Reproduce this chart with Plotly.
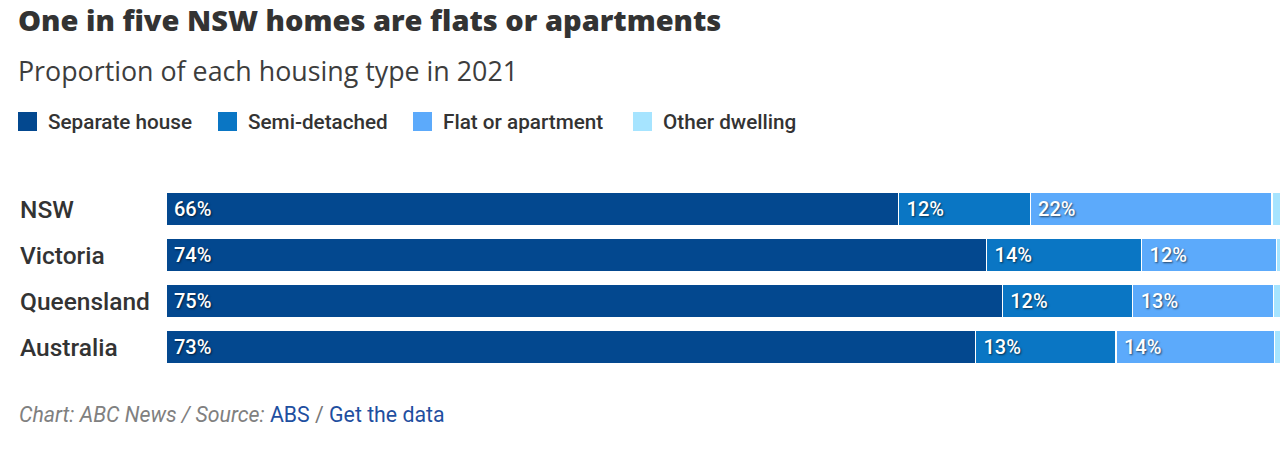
import plotly.graph_objects as go

regions = ["NSW", "Victoria", "Queensland", "Australia"]
series_names = ["Separate house", "Semi-detached", "Flat or apartment", "Other dwelling"]
separate_house = [65.7, 73.6, 75.0, 72.6]
semi_detached = [11.8, 13.9, 11.7, 12.6]
flat_apartment = [21.7, 12.1, 12.6, 14.2]
other_dwelling = [0.8, 0.4, 0.7, 0.6]
series_values = [separate_house, semi_detached, flat_apartment, other_dwelling]
colors = ["#03488F", "#0A76C4", "#5CAAFB", "#A6E4FF"]

W, H = 1280, 453
L, R, T, B = 166, 0, 186, 453 - 370
pw, ph = W - L - R, H - T - B
PX_PER_PCT = 11.15  # plot scale: share of the bar that is visible

def px_x(x):
    return (x - L) / pw

def px_y(y):
    return (H - B - y) / ph

NB = "\u00a0"
fig = go.Figure()
for name, vals, col in zip(series_names, series_values, colors):
    show_text = name != "Other dwelling"
    fig.add_trace(go.Bar(
        y=regions, x=vals, name=name, orientation="h",
        marker=dict(color=col, line=dict(color="white", width=1.2)),
        text=[f"{NB}{round(v)}%" for v in vals] if show_text else None,
        textposition="inside" if show_text else "none",
        insidetextanchor="start",
        textangle=0,
        textfont=dict(family="Roboto", size=20, color="white", weight=500,
                      shadow="1px 1px 2px rgba(0,0,0,0.6)"),
        hoverinfo="skip",
        showlegend=False,
    ))

annotations = []
shapes = []
annotations.append(dict(text="One in five NSW homes are flats or apartments",
                        xref="paper", yref="paper", x=px_x(16), y=px_y(-2),
                        xanchor="left", yanchor="top", showarrow=False,
                        font=dict(family="Open Sans", size=29, color="#333333", weight=800)))
annotations.append(dict(text="Proportion of each housing type in 2021",
                        xref="paper", yref="paper", x=px_x(16), y=px_y(70),
                        xanchor="left", yanchor="middle", showarrow=False,
                        font=dict(family="Open Sans", size=26.8, color="#3d3d3d")))
legend_pos = [(18, 47), (218, 247), (413, 442), (633, 662)]
for (sx, tx), name, col in zip(legend_pos, series_names, colors):
    shapes.append(dict(type="rect", xref="paper", yref="paper",
                       x0=px_x(sx), x1=px_x(sx + 19), y0=px_y(112), y1=px_y(131),
                       fillcolor=col, line=dict(width=0)))
    annotations.append(dict(text=name, xref="paper", yref="paper",
                            x=px_x(tx - 1), y=px_y(122), xanchor="left", yanchor="middle",
                            showarrow=False,
                            font=dict(family="Roboto", size=20.7, color="#333333", weight=500)))
for r in regions:
    annotations.append(dict(text=r, xref="paper", yref="y", x=px_x(18), y=r,
                            xanchor="left", yanchor="middle", showarrow=False,
                            font=dict(family="Roboto", size=24.5, color="#333333", weight=500)))
annotations.append(dict(
    text="<i>Chart: ABC News / Source: </i><span style='color:#1F4FA0'>ABS</span>"
         "<span style='color:#777777'> / </span><span style='color:#1F4FA0'>Get the data</span>",
    xref="paper", yref="paper", x=px_x(17), y=px_y(414), xanchor="left", yanchor="middle",
    showarrow=False, font=dict(family="Roboto", size=21.3, color="#808080")))

fig.update_layout(
    barmode="stack", bargap=0.28,
    width=W, height=H,
    margin=dict(l=L, r=R, t=T, b=B),
    paper_bgcolor="white", plot_bgcolor="white",
    xaxis=dict(range=[0, pw / PX_PER_PCT], visible=False, fixedrange=True),
    yaxis=dict(autorange="reversed", showticklabels=False, showgrid=False,
               zeroline=False, fixedrange=True),
    annotations=annotations, shapes=shapes,
    uniformtext=dict(mode="show", minsize=10),
)

fig.write_html("out.html", config={"displayModeBar": False},
               post_script="document.body.style.margin='0';document.body.style.overflow='hidden';")
